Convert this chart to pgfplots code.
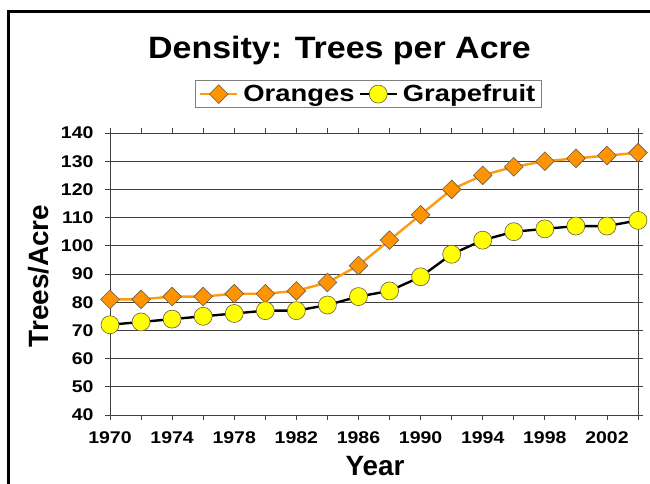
\documentclass[border=0pt]{standalone}
\usepackage{pgfplots}
\pgfplotsset{compat=1.18}
\usepackage{fontspec}
\setmainfont{Liberation Sans}
\newfontfamily\tickfont{Liberation Sans Bold}[FakeStretch=1.15]
\newfontfamily\legfont{Liberation Sans Bold}[FakeStretch=1.17]
\newfontfamily\titlefont{Liberation Sans Bold}[FakeStretch=1.1]
\newfontfamily\labfont{Liberation Sans Bold}
\definecolor{orline}{HTML}{FF9A10}
\definecolor{orfill}{HTML}{FF9400}
\definecolor{mkedge}{HTML}{6A5A4A}
\definecolor{gfill}{HTML}{FFFF00}
\definecolor{gridc}{HTML}{404040}
\pgfplotstableread{
year oranges grapefruit
1970 81 72
1972 81 73
1974 82 74
1976 82 75
1978 83 76
1980 83 77
1982 84 77
1984 87 79
1986 93 82
1988 102 84
1990 111 89
1992 120 97
1994 125 102
1996 128 105
1998 130 106
2000 131 107
2002 132 107
2004 133 109
}\datatable
\begin{document}
\begin{tikzpicture}
\useasboundingbox (0,0) rectangle (650bp,484bp);
\draw[line width=3bp] (8bp,-5bp) -- (8bp,472bp) -- (660bp,472bp);
\node[font=\fontsize{31}{36}\titlefont, anchor=base, inner sep=0pt] at (339.5bp,425bp) {Density: Trees per Acre};
\begin{axis}[
  at={(110bp,69bp)}, anchor=south west,
  scale only axis, width=528bp, height=282bp,
  xmin=1970, xmax=2004, ymin=40, ymax=140,
  xtick={1970,1974,...,2002},
  minor xtick={1972,1976,...,2004},
  ytick={40,50,...,140},
  tick align=outside,
  major tick length=5bp, minor tick length=5bp,
  every tick/.style={gridc, line width=0.8pt},
  ymajorgrids,
  major grid style={gridc, line width=0.7pt},
  axis line style={gray!70},
  separate axis lines,
  x axis line style={gridc, line width=0.8pt},
  y axis line style={gridc, line width=0.8pt},
  xticklabel style={font=\fontsize{17}{20}\tickfont, yshift=-8bp},
  yticklabel style={font=\fontsize{17}{20}\tickfont, xshift=-8bp},
  /pgf/number format/assume math mode=true,
  /pgf/number format/set thousands separator={},
  xlabel={Year}, ylabel={Trees/Acre},
  xlabel style={font=\fontsize{28}{32}\labfont, at={(rel axis cs:0.502,0)}, anchor=base, inner sep=0pt, yshift=-60bp},
  ylabel style={font=\fontsize{28}{32}\labfont, at={(rel axis cs:-0.136,0.493)}, anchor=center},
  legend columns=2,
  legend style={at={(0.489,1.138)}, anchor=center, draw=gray, line width=0.8pt,
    font=\fontsize{23.5}{27}\legfont, inner xsep=4bp, inner ysep=2.5bp,
    /tikz/every odd column/.append style={column sep=3bp},
    /tikz/every even column/.append style={column sep=2bp}},
  legend image code/.code={\draw[mark repeat=2, mark phase=2, #1] plot coordinates {(0bp,0bp) (18.5bp,0bp) (37bp,0bp)};},
  clip=false,
]
\addplot[orline, line width=2.4pt, mark=square*, mark size=6.6bp,
  mark options={rotate=45, fill=orfill, draw=mkedge, line width=0.6pt}]
  table[x=year, y=oranges] {\datatable};
\addlegendentry{Oranges}
\addplot[black, line width=2.4pt, mark=*, mark size=9bp,
  mark options={fill=gfill, draw=mkedge, line width=0.6pt}]
  table[x=year, y=grapefruit] {\datatable};
\addlegendentry{Grapefruit}
\end{axis}
\end{tikzpicture}
\end{document}
